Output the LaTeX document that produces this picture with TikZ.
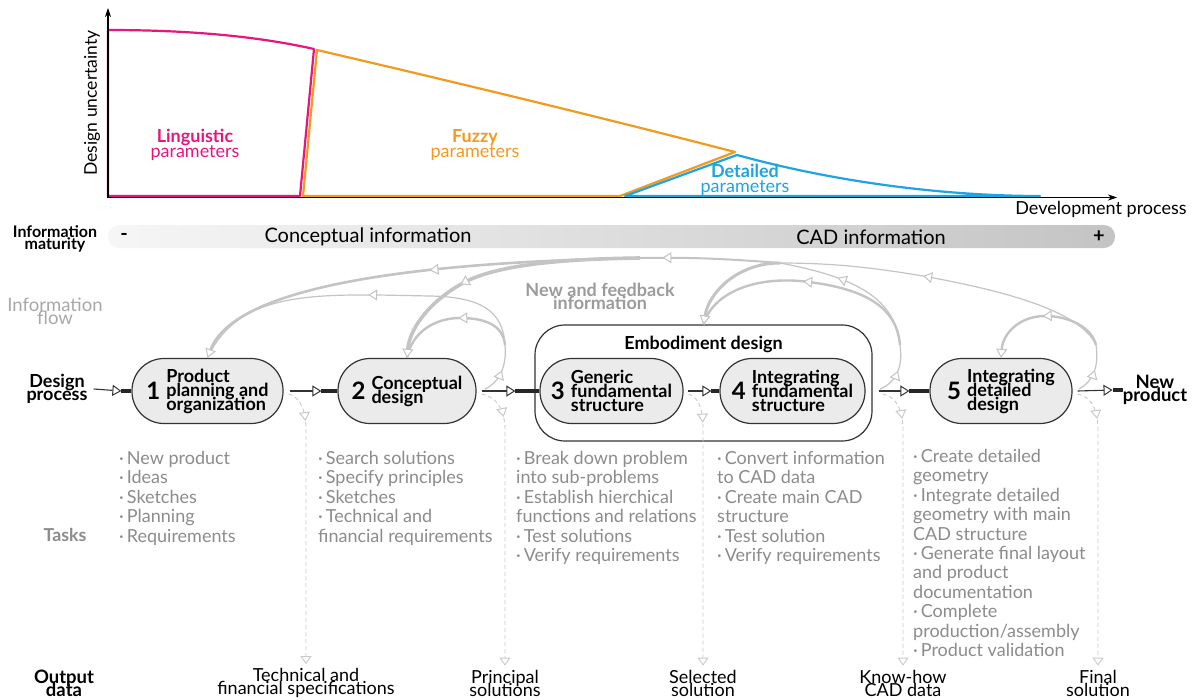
\documentclass[tikz,border=0pt]{standalone}
\usepackage{fontspec}
\setmainfont{Lato}
\usetikzlibrary{arrows.meta,decorations.markings}
\definecolor{cmag}{HTML}{E5177E}
\definecolor{corg}{HTML}{F39A1E}
\definecolor{cblu}{HTML}{1EA4E0}
\definecolor{cflow}{HTML}{C4C4C4}
\definecolor{cdash}{HTML}{CACACA}
\definecolor{ctask}{HTML}{8C8C8C}
\definecolor{cfill}{HTML}{EBEBEB}
\definecolor{cedge}{HTML}{333333}
\definecolor{cinfo}{HTML}{A8A8A8}
\definecolor{cnew}{HTML}{9B9B9B}
\definecolor{barL}{HTML}{F6F6F6}
\definecolor{barR}{HTML}{C4C4C4}
\newcommand{\fsz}[2]{\fontsize{#1}{#2}\selectfont\lineskiplimit=-30pt\relax}
\newcommand{\stagetxt}[2]{$\vcenter{\hbox{\fsz{24}{24}\bfseries #1}}$\hspace{6pt}$\vcenter{\fsz{18}{14}\bfseries\halign{##\hfil\cr #2\cr}}$}
\tikzset{
  tri/.tip={Triangle[width=11pt,length=9pt,fill=white,line width=1pt]},
  stage/.style={rectangle, rounded corners=32pt, draw=cedge, line width=1.2pt, fill=cfill, minimum height=65pt, inner sep=0pt},
  pthin/.style={draw=cedge, line width=1.1pt, -{tri}},
  pthick/.style={draw=black!85, line width=3.5pt},
  fl/.style={draw=cflow, line width=#1},
  ftip/.style={-{tri}},
  mk/.style={decoration={markings, mark=at position #1 with {\arrow{tri}}}, postaction=decorate},
  outl/.style={draw=cdash, line width=0.9pt, dash pattern=on 4pt off 3pt, -{Triangle[width=11pt,length=8pt,fill=white,line width=0.9pt]}},
  outlbl/.style={font=\fsz{18}{13}, align=center, inner sep=0pt},
  task/.style={anchor=north west, align=left, font=\fsz{18}{19.4}, text=ctask, inner sep=0pt},
  side/.style={align=center, inner sep=0pt},
}
\begin{document}
\begin{tikzpicture}[x=1pt,y=-1pt]
\useasboundingbox (0,0) rectangle (1197,699);
\fill[white] (0,0) rectangle (1197,699);

% ---------- uncertainty chart ----------
\draw[cmag, line width=2.2pt, line join=round] (108,196) -- (108,30) .. controls (200,30) and (265,38) .. (314,49) -- (300,196) -- cycle;
\draw[corg, line width=2.2pt, line join=round] (303,196) -- (317,50) .. controls (450,81) and (600,117) .. (735,152) -- (620,196) -- cycle;
\draw[cblu, line width=2.2pt, line join=round] (625,196) -- (737,155) .. controls (850,186) and (960,196) .. (1040,196) -- cycle;
\draw[black, line width=1.1pt, -{Stealth[length=9pt,width=6pt]}] (108,198) -- (108,8);
\draw[black, line width=1.1pt, -{Stealth[length=9pt,width=6pt]}] (107,197.5) -- (1117,197.5);
\node[font=\fsz{17.5}{17.5}, rotate=90, inner sep=0pt] (du) at (92,103) {Design uncertainty};
\node[font=\fsz{18}{18}, inner sep=0pt] (dev) at (1101,209) {Development process};
\node[side, text=cmag, font=\fsz{18}{14.5}] (ling) at (195,145) {{\bfseries Linguistic}\\parameters};
\node[side, text=corg, font=\fsz{18}{14.5}] (fuz) at (475,145) {{\bfseries Fuzzy}\\parameters};
\node[side, text=cblu, font=\fsz{18}{14.5}] (det) at (745,180) {{\bfseries Detailed}\\parameters};

% ---------- information maturity ----------
\shade[left color=barL, right color=barR, rounded corners=11pt] (108,225) rectangle (1115,248);
\node[side, font=\fsz{16}{12.5}\bfseries] (im) at (55,239) {Information\\maturity};
\node[font=\fsz{20}{20}, inner sep=0pt] (ci) at (368,237) {Conceptual information};
\node[font=\fsz{20}{20}, inner sep=0pt] (cad) at (871,237) {CAD information};
\node[font=\fsz{20}{20}\bfseries, inner sep=0pt] (minus) at (124,237) {-};
\node[font=\fsz{20}{20}\bfseries, inner sep=0pt] (plus) at (1099,237) {+};

% ---------- labels ----------
\node[side, text=cinfo, font=\fsz{18.5}{13}] (iflow) at (55,311) {Information\\flow};
\node[side, text=cnew, font=\fsz{18}{13}\bfseries] (nf) at (600,296) {New and feedback\\information};
\node[side, font=\fsz{18}{13}\bfseries] (dp) at (57,389) {Design\\process};
\node[side, font=\fsz{18.5}{13}\bfseries] (np) at (1155,390) {New\\product};
\node[side, font=\fsz{17.8}{16}\bfseries, text=ctask] (tk) at (65,535) {Tasks};
\node[side, font=\fsz{18.5}{13}\bfseries] (od) at (64,683) {Output\\data};

% ---------- stages ----------
\node[draw=cedge, line width=1.2pt, fill=white, rounded corners=30pt, minimum width=337pt, minimum height=116pt] (emb) at (703.5,383) {};
\node[font=\fsz{18}{14}\bfseries, inner sep=0pt] (embt) at (703.5,344) {Embodiment design};
\node[stage, minimum width=151pt] (n1) at (207.5,391) {\stagetxt{1}{Product\cr planning and\cr organization}};
\node[stage, minimum width=138pt] (n2) at (407,391) {\stagetxt{2}{Conceptual\cr design}};
\node[stage, minimum width=143pt] (n3) at (611.5,391) {\stagetxt{3}{Generic\cr fundamental\cr structure}};
\node[stage, minimum width=145pt] (n4) at (792.5,391) {\stagetxt{4}{Integrating\cr fundamental\cr structure}};
\node[stage, minimum width=142pt] (n5) at (1001,391) {\stagetxt{5}{Integrating\cr detailed\cr design}};

% ---------- process connectors ----------
\path (emb.east |- n4.east) ++(6pt,0) coordinate (e5);
\draw[pthin] ([xshift=6pt]dp.east) -- ([xshift=-10pt]n1.west);
\draw[pthick] ([xshift=-10pt]n1.west) -- (n1.west);
\draw[pthin] ([xshift=6pt]n1.east) -- ([xshift=-16pt]n2.west);
\draw[pthick] ([xshift=-16pt]n2.west) -- (n2.west);
\draw[pthin] ([xshift=5pt]n2.east) -- ([xshift=-24pt]n3.west);
\draw[pthick] ([xshift=-24pt]n3.west) -- (n3.west);
\draw[pthin] ([xshift=4pt]n3.east) -- ([xshift=-8pt]n4.west);
\draw[pthick] ([xshift=-8pt]n4.west) -- (n4.west);
\draw[pthin] (e5) -- ([xshift=-20pt]n5.west);
\draw[pthick] ([xshift=-20pt]n5.west) -- (n5.west);
\draw[pthin] ([xshift=5pt]n5.east) -- ([xshift=-10pt]np.west);
\draw[pthick] ([xshift=-10pt]np.west) -- (np.west);

% ---------- information flow ----------
\coordinate (s2) at (485,389);
\coordinate (j2) at (505,345);
\coordinate (s34) at (880,389);
\coordinate (j34) at (900,345);
\coordinate (s5) at (1079,389);
\coordinate (j5) at (1096,345);
\coordinate (jT) at (780,263);
\coordinate (jM) at (640,258);

\draw[fl=1.2pt, mk=0.5] (s2) .. controls (500,382) and (507,365) .. (j2);
\draw[fl=1.2pt, mk=0.47] (j2) .. controls (503,310) and (480,297) .. (430,296) .. controls (320,294) and (240,288) .. (n1.north);
\draw[fl=2.4pt, mk=0.46] (j2) .. controls (503,325) and (485,318) .. (460,318) .. controls (435,318) and (412,332) .. (n2.north);

\draw[fl=1.2pt, mk=0.5] (s34) .. controls (897,382) and (903,366) .. (j34);
\draw[fl=2.4pt, mk=0.52] (j34) .. controls (897,310) and (870,288) .. (800,281) .. controls (750,277) and (712,295) .. (emb.north);
\draw[fl=1.2pt, mk=0.62] (j34) .. controls (895,300) and (860,278) .. (jT);

\draw[fl=1.2pt, mk=0.5] (s5) .. controls (1094,381) and (1099,365) .. (j5);
\draw[fl=2.4pt, mk=0.5, ftip] (j5) .. controls (1092,328) and (1070,316) .. (1045,316) .. controls (1020,316) and (1003,333) .. (n5.north);
\draw[fl=1.2pt, mk=0.57] (j5) .. controls (1080,310) and (1000,290) .. (923,276) .. controls (870,267) and (830,263) .. (jT);

\draw[fl=3pt, ftip] (jT) .. controls (738,263) and (709,292) .. (emb.north);
\draw[fl=2pt, mk=0.84] (jT) .. controls (730,259) and (690,257) .. (jM);
\draw[fl=2.6pt, mk=0.46, ftip] (jM) .. controls (420,262) and (235,285) .. (n1.north);
\draw[fl=3.6pt, mk=0.66, ftip] (jM) .. controls (560,259) and (500,265) .. (467,281) .. controls (435,297) and (410,325) .. (n2.north);

% ---------- output data ----------
\node[outlbl] (o1) at (306,683) {Technical and\\financial specifications};
\node[outlbl] (o2) at (505,683) {Principal\\solutions};
\node[outlbl] (o3) at (703,683) {Selected\\solution};
\node[outlbl] (o4) at (903,683) {Know-how\\CAD data};
\node[outlbl] (o5) at (1098,683) {Final\\solution};
\draw[outl, mk=34pt] ([shift={(5pt,-3pt)}]n1.east) .. controls (298,397) and (305,405) .. (306,428) -- ([yshift=4pt]o1.north);
\draw[outl, mk=34pt] ([shift={(5pt,-3pt)}]n2.east) .. controls (495,397) and (504,406) .. (505,428) -- ([yshift=4pt]o2.north);
\draw[outl, mk=34pt] ([shift={(5pt,-3pt)}]n3.east) .. controls (697,397) and (703,406) .. (703,428) -- ([yshift=4pt]o3.north);
\draw[outl, mk=34pt] ([shift={(4pt,-3pt)}]e5) .. controls (895,397) and (902,406) .. (903,428) -- ([yshift=4pt]o4.north);
\draw[outl, mk=34pt] ([shift={(5pt,-3pt)}]n5.east) .. controls (1090,397) and (1097,406) .. (1098,428) -- ([yshift=4pt]o5.north);

% ---------- tasks ----------
\node[task] (t1) at (119,451) {·\,New product\\·\,Ideas\\·\,Sketches\\·\,Planning\\·\,Requirements};
\node[task] (t2) at (318,451) {·\,Search solutions\\·\,Specify principles\\·\,Sketches\\·\,Technical and\\financial requirements};
\node[task] (t3) at (516,451) {·\,Break down problem\\into sub-problems\\·\,Establish hierchical\\functions and relations\\·\,Test solutions\\·\,Verify requirements};
\node[task] (t4) at (717,451) {·\,Convert information\\to CAD data\\·\,Create main CAD\\structure\\·\,Test solution\\·\,Verify requirements};
\node[task] (t5) at (913,449) {·\,Create detailed\\geometry\\·\,Integrate detailed\\geometry with main\\CAD structure\\·\,Generate final layout\\and product\\documentation\\·\,Complete\\production/assembly\\·\,Product validation};
\end{tikzpicture}
\end{document}
